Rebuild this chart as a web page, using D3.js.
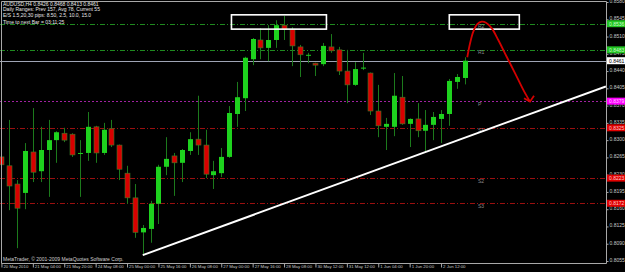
<!DOCTYPE html>
<html>
<head>
<meta charset="utf-8">
<script src="https://cdn.jsdelivr.net/npm/d3@7"></script>
<style>
html, body { margin: 0; padding: 0; background: #000; overflow: hidden; }
svg { display: block; font-family: "Liberation Sans", Arial, sans-serif; }
</style>
</head>
<body>
<div id="chart"></div>
<script>
// H4 bars, AUDUSD, 20 May - 2 Jun 2010
const open = [0.8266,0.8248,0.8211,0.8193,0.8276,0.8237,0.8280,0.8300,0.8314,0.8312,
  0.8272,0.8274,0.8327,0.8274,0.8323,0.8290,0.8233,0.8183,0.8113,0.8120,
  0.8171,0.8246,0.8268,0.8254,0.8278,0.8302,0.8290,0.8229,0.8233,0.8266,
  0.8353,0.8385,0.8464,0.8503,0.8487,0.8503,0.8533,0.8525,0.8489,0.8472,
  0.8456,0.8454,0.8489,0.8483,0.8440,0.8412,0.8446,0.8436,0.8359,0.8327,
  0.8327,0.8387,0.8333,0.8343,0.8319,0.8331,0.8343,0.8353,0.8418,0.8426];
const high = [0.8276,0.8341,0.8219,0.8294,0.8365,0.8327,0.8341,0.8318,0.8325,0.8314,
  0.8300,0.8357,0.8329,0.8335,0.8341,0.8291,0.8248,0.8211,0.8128,0.8177,
  0.8250,0.8306,0.8274,0.8282,0.8316,0.8390,0.8321,0.8258,0.8284,0.8369,
  0.8418,0.8469,0.8507,0.8527,0.8533,0.8543,0.8552,0.8529,0.8493,0.8477,
  0.8457,0.8497,0.8515,0.8489,0.8483,0.8458,0.8477,0.8437,0.8412,0.8345,
  0.8436,0.8430,0.8344,0.8375,0.8361,0.8357,0.8361,0.8424,0.8434,0.8468];
const low = [0.8244,0.8158,0.8081,0.8160,0.8215,0.8215,0.8185,0.8254,0.8296,0.8266,
  0.8185,0.8258,0.8254,0.8270,0.8286,0.8219,0.8171,0.8102,0.8069,0.8092,
  0.8130,0.8229,0.8187,0.8215,0.8270,0.8270,0.8223,0.8201,0.8225,0.8264,
  0.8327,0.8359,0.8452,0.8464,0.8460,0.8487,0.8503,0.8450,0.8428,0.8456,
  0.8430,0.8450,0.8477,0.8432,0.8375,0.8410,0.8442,0.8351,0.8306,0.8280,
  0.8308,0.8331,0.8286,0.8306,0.8276,0.8300,0.8294,0.8329,0.8404,0.8413];
const close = [0.8250,0.8207,0.8162,0.8278,0.8235,0.8280,0.8300,0.8316,0.8300,0.8270,
  0.8274,0.8327,0.8274,0.8321,0.8290,0.8241,0.8183,0.8113,0.8122,0.8171,
  0.8246,0.8262,0.8254,0.8280,0.8302,0.8290,0.8231,0.8237,0.8266,0.8355,
  0.8387,0.8467,0.8505,0.8487,0.8503,0.8533,0.8525,0.8491,0.8473,0.8473,
  0.8452,0.8491,0.8481,0.8440,0.8412,0.8444,0.8447,0.8359,0.8329,0.8333,
  0.8390,0.8333,0.8343,0.8319,0.8331,0.8347,0.8353,0.8420,0.8428,0.8461];

// time labels, one every 4 bars
const timeLabels = ["20 May 2010","21 May 04:00","21 May 20:00","24 May 08:00","25 May 00:00",
  "25 May 16:00","26 May 08:00","27 May 00:00","27 May 16:00","28 May 08:00",
  "30 May 12:00","31 May 12:00","1 Jun 04:00","1 Jun 20:00","2 Jun 12:00"];

const priceTicks = [0.8580,0.8545,0.8510,0.8475,0.8440,0.8405,0.8370,0.8335,0.8300,
  0.8265,0.8230,0.8195,0.8160,0.8125,0.8090,0.8055];

// pivot levels
const levelNames = ["R2","R1","P","S1","S2","S3"];
const levelValues = [0.8536,0.8483,0.8379,0.8325,0.8223,0.8172];
const currentPrice = 0.8461;

const infoLines = [
  "AUDUSD,H4  0.8426 0.8468 0.8413 0.8461",
  "Daily Ranges:  Prev 157,  Avg 78,  Current 55",
  "E/S 1.5,20,30 pips:  8.50,  2.5,  10.0,  15.0",
  "Time to next Bar = 03:11:25"
];

// drawn objects (bar index, price)
const trendIdx = [18, 77];
const trendPrice = [0.8067, 0.8409];
const boxIdx = [[29.3, 41.4], [57.05, 65.97]];
const boxPrice = [0.8554, 0.8525];
const arrowIdx = [59.34,59.69,60.11,60.62,61.18,61.73,62.45,63.29,64.36,65.42,66.48,67.33];
const arrowPrice = [0.8468,0.8496,0.8520,0.8535,0.8540,0.8538,0.8527,0.8503,0.8469,0.8436,0.8402,0.8378];
const arrowHeadIdx = [66.57, 67.33, 67.84];
const arrowHeadPrice = [0.8385, 0.8378, 0.8390];

const W = 625, H = 272;
const plotW = 606, plotH = 263;

const svg = d3.select("#chart").append("svg").attr("width", W).attr("height", H);
svg.append("rect").attr("width", W).attr("height", H).attr("fill", "#000");

const x = d3.scaleLinear().domain([0, 77]).range([1.45, 1.45 + 77 * 7.85]);
const y = d3.scaleLinear().domain([0.8055, 0.8580]).range([261, 2]);

svg.append("clipPath").attr("id", "plot")
  .append("rect").attr("x", 0).attr("y", 0).attr("width", plotW).attr("height", plotH);

const g = svg.append("g").attr("clip-path", "url(#plot)");

// level lines
const levelColor = d => d[0] == "R" ? "#1f8a1f" : d[0] == "P" ? "#a020a0" : "#9a1010";
g.selectAll(".lvl").data(levelNames).enter().append("line")
  .attr("x1", 0).attr("x2", plotW)
  .attr("y1", (d, i) => Math.round(y(levelValues[i])) + 0.5)
  .attr("y2", (d, i) => Math.round(y(levelValues[i])) + 0.5)
  .attr("stroke", levelColor)
  .attr("stroke-dasharray", d => d == "P" ? "2,2" : "5,2,1,2");

g.selectAll(".lvlname").data(levelNames).enter().append("text")
  .attr("x", x(60.7)).attr("y", (d, i) => y(levelValues[i]) + 4.5)
  .attr("fill", "#8a8a8a").attr("font-size", 5).text(d => d);

// current price line
g.append("line").attr("x1", 0).attr("x2", plotW)
  .attr("y1", Math.round(y(currentPrice)) + 0.5).attr("y2", Math.round(y(currentPrice)) + 0.5)
  .attr("stroke", "#9ea4b4");

// candles
const bars = open.map((o, i) => ({ i, o, h: high[i], l: low[i], c: close[i] }));
const candle = g.selectAll(".bar").data(bars).enter().append("g");
candle.append("line")
  .attr("x1", d => Math.round(x(d.i)) + 0.5).attr("x2", d => Math.round(x(d.i)) + 0.5)
  .attr("y1", d => y(d.h)).attr("y2", d => y(d.l))
  .attr("stroke", "#1c7a1c");
candle.append("rect")
  .attr("x", d => Math.round(x(d.i)) - 2)
  .attr("width", 5)
  .attr("y", d => y(Math.max(d.o, d.c)))
  .attr("height", d => Math.max(1, y(Math.min(d.o, d.c)) - y(Math.max(d.o, d.c))))
  .attr("fill", d => d.c >= d.o ? "#1ed21e" : "#d80000")
  .attr("stroke", d => d.c >= d.o ? "none" : "#3a7a2a")
  .attr("stroke-width", 0.6);

// trend line
const tSlope = (trendPrice[1] - trendPrice[0]) / (trendIdx[1] - trendIdx[0]);
g.append("line")
  .attr("x1", x(trendIdx[0])).attr("y1", y(trendPrice[0]))
  .attr("x2", x(trendIdx[1])).attr("y2", y(trendPrice[0] + tSlope * (trendIdx[1] - trendIdx[0])))
  .attr("stroke", "#fff").attr("stroke-width", 2);

// boxes
g.selectAll(".box").data(boxIdx).enter().append("rect")
  .attr("x", d => x(d[0])).attr("width", d => x(d[1]) - x(d[0]))
  .attr("y", y(boxPrice[0])).attr("height", y(boxPrice[1]) - y(boxPrice[0]))
  .attr("fill", "none").attr("stroke", "#fff").attr("stroke-width", 1.6);

// red arrow
const curve = d3.line().x(d => x(d[0])).y(d => y(d[1])).curve(d3.curveCatmullRom);
g.append("path").datum(arrowIdx.map((v, i) => [v, arrowPrice[i]]))
  .attr("d", curve).attr("fill", "none").attr("stroke", "#d40000").attr("stroke-width", 1.8);
g.append("path").datum(arrowHeadIdx.map((v, i) => [v, arrowHeadPrice[i]]))
  .attr("d", d3.line().x(d => x(d[0])).y(d => y(d[1])))
  .attr("fill", "none").attr("stroke", "#d40000").attr("stroke-width", 1.8);

// frame
svg.append("path")
  .attr("d", `M1.5,${plotH + 0.5}V1.5H${plotW + 0.5}V${plotH + 0.5}H1.5`)
  .attr("fill", "none").attr("stroke", "#a8a8a8");

// info text
svg.selectAll(".info").data(infoLines).enter().append("text")
  .attr("x", 3).attr("y", (d, i) => [6, 11, 16.8, 24][i])
  .attr("fill", "#e8e8e8").attr("font-size", 5).text(d => d);

svg.append("text").attr("x", 3).attr("y", 261)
  .attr("fill", "#d0d0d0").attr("font-size", 5)
  .text("MetaTrader, \u00a9 2001-2009 MetaQuotes Software Corp.");

// price axis
const yAxis = svg.append("g").attr("transform", `translate(${plotW + 0.5},0)`)
  .call(d3.axisRight(y).tickValues(priceTicks).tickFormat(d3.format(".4f")).tickSize(2));
yAxis.select(".domain").remove();
yAxis.selectAll("line").attr("stroke", "#a8a8a8");
yAxis.selectAll("text").attr("x", 3).attr("dy", "0.1em")
  .attr("fill", "#c8c8c8").attr("font-size", 5).attr("font-family", "Liberation Sans, Arial");

// price tags
const tagFill = ["#22c422", "#22c422", "#ff00ff", "#e00000", "#e00000", "#e00000"];
const tagText = ["#c8ffc8", "#c8ffc8", "#ffd0ff", "#ffc8c8", "#ffc8c8", "#ffc8c8"];
const tags = svg.selectAll(".tag").data(levelValues.concat([currentPrice])).enter().append("g")
  .attr("transform", d => `translate(${plotW + 1},${y(d) - 3.5})`);
tags.append("rect").attr("width", 18).attr("height", 7)
  .attr("fill", (d, i) => i < 6 ? tagFill[i] : "#fff");
tags.append("text").attr("x", 2).attr("y", 5.3).attr("font-size", 5)
  .attr("fill", (d, i) => i < 6 ? tagText[i] : "#000")
  .text(d => d3.format(".4f")(d));

// time axis
const xAxis = svg.append("g").attr("transform", `translate(0,${plotH + 0.5})`)
  .call(d3.axisBottom(x).tickValues(timeLabels.map((d, k) => k * 4))
    .tickFormat((d, k) => timeLabels[k]).tickSize(4));
xAxis.select(".domain").remove();
xAxis.selectAll("line").attr("stroke", "#a8a8a8");
xAxis.selectAll("text").attr("text-anchor", "start").attr("x", 1.5).attr("y", 1.8).attr("dy", "0.71em")
  .attr("fill", "#c8c8c8").attr("font-size", 4.3).attr("font-family", "Liberation Sans, Arial");
</script>
</body>
</html>
